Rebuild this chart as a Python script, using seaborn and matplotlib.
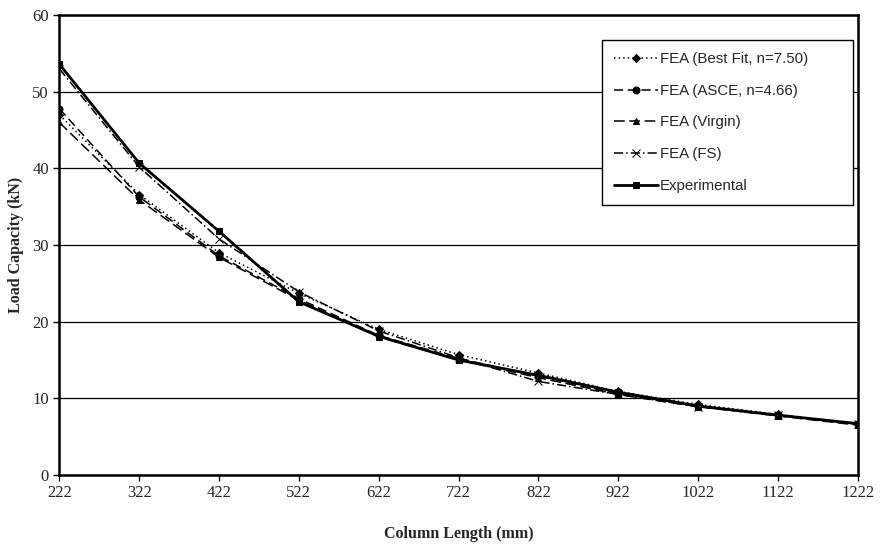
import pandas as pd
import numpy as np
import matplotlib.pyplot as plt
import seaborn as sns

# data
lengths = [222, 322, 422, 522, 622, 722, 822, 922, 1022, 1122, 1222]
best_fit = [47.0, 36.6, 29.0, 23.7, 19.0, 15.7, 13.3, 10.9, 9.2, 7.9, 6.6]
asce = [47.8, 36.3, 28.6, 23.0, 18.2, 15.2, 12.9, 10.6, 9.0, 7.8, 6.6]
virgin = [46.0, 35.9, 28.4, 22.8, 18.0, 15.0, 12.7, 10.5, 8.9, 7.7, 6.5]
fs = [53.0, 40.2, 30.8, 23.9, 18.8, 15.3, 12.2, 10.5, 8.9, 7.8, 6.6]
experimental = [53.6, 40.7, 31.8, 22.6, 18.1, 15.0, 13.0, 10.8, 9.0, 7.8, 6.7]

series = {
    "FEA (Best Fit, n=7.50)": best_fit,
    "FEA (ASCE, n=4.66)": asce,
    "FEA (Virgin)": virgin,
    "FEA (FS)": fs,
    "Experimental": experimental,
}

sns.set_style("white")
plt.rcParams['font.family'] = ['Liberation Serif', 'DejaVu Serif']

fig, ax = plt.subplots(figsize=(8.86, 5.44), dpi=100)
fig.subplots_adjust(left=0.067, right=0.968, top=0.972, bottom=0.127)

styles = {
    "FEA (Best Fit, n=7.50)": dict(marker="D", dashes=(1, 2), ms=4, lw=1.1),
    "FEA (ASCE, n=4.66)": dict(marker="o", dashes=(6, 3), ms=5, lw=1.1),
    "FEA (Virgin)": dict(marker="^", dashes=(7, 3), ms=5, lw=1.1),
    "FEA (FS)": dict(marker="x", dashes=(6, 2, 1, 2), ms=6, lw=1.1),
    "Experimental": dict(marker="s", dashes=(), ms=5, lw=2.0),
}

for name, vals in series.items():
    st = styles[name]
    sns.lineplot(x=lengths, y=vals, ax=ax, color="black", label=name,
                 marker=st["marker"], markersize=st["ms"], linewidth=st["lw"],
                 dashes=st["dashes"] if st["dashes"] else None,
                 markeredgecolor="black", markerfacecolor="black")

ax.set_xlim(222, 1222)
ax.set_ylim(0, 60)
ax.set_xticks(lengths)
ax.set_yticks(np.arange(0, 61, 10))
ax.yaxis.grid(True, color="black", linewidth=0.9)
ax.set_axisbelow(True)
for sp in ax.spines.values():
    sp.set_color("black")
    sp.set_linewidth(1.8)
ax.tick_params(axis="both", direction="out", length=4, width=1, color="black",
               labelsize=12, bottom=True, left=True)

ax.set_xlabel("Column Length (mm)", fontsize=11.5, fontweight="bold", labelpad=18)
ax.set_ylabel("Load Capacity (kN)", fontsize=11.5, fontweight="bold", labelpad=6)

# legend box spans a fixed area like the original
leg = ax.legend(loc="upper left", bbox_to_anchor=(0.68, 0.587, 0.314, 0.359),
                mode="expand", frameon=True,
                fancybox=False, edgecolor="black", framealpha=1,
                prop={"family": "Liberation Sans", "size": 10.8},
                labelspacing=1.18, handlelength=2.9, handletextpad=0.15,
                borderpad=0.8, borderaxespad=0)
leg.get_frame().set_linewidth(1.0)

plt.savefig("out.png", dpi=100)
